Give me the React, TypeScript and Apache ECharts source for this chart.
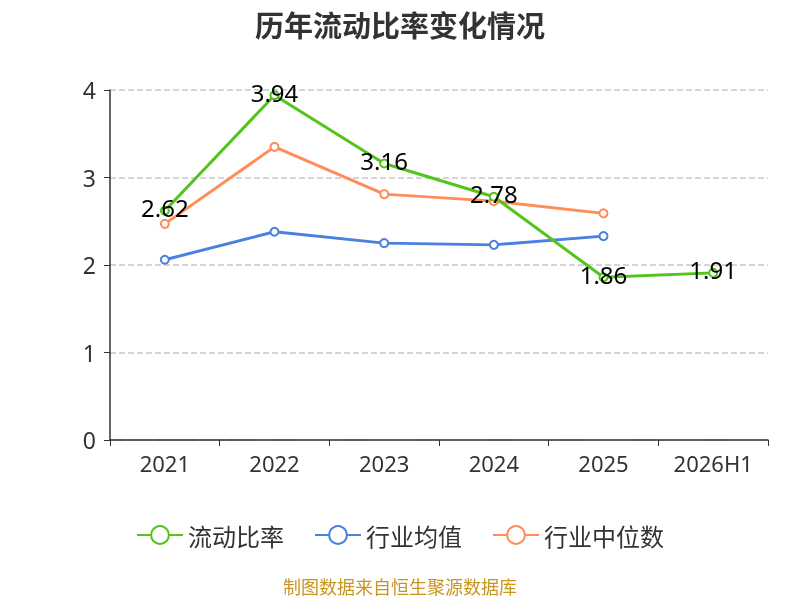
import React, { useEffect, useRef } from "react";
import * as echarts from "echarts";

const categories = ["2021", "2022", "2023", "2024", "2025", "2026H1"];
const currentRatio = [2.62, 3.94, 3.16, 2.78, 1.86, 1.91];
const industryMean = [2.06, 2.38, 2.25, 2.23, 2.33, null];
const industryMedian = [2.47, 3.35, 2.81, 2.73, 2.59, null];

export default function App() {
  const ref = useRef<HTMLDivElement>(null);
  useEffect(() => {
    const chart = echarts.init(ref.current!, null, { renderer: "svg" });
    const lineSeries = (name: string, data: any[], color: string, showLabel: boolean) => ({
      name,
      type: "line",
      data,
      symbol: "emptyCircle",
      symbolSize: 8,
      lineStyle: { width: 3, color },
      itemStyle: { color, borderWidth: 2 },
      label: showLabel
        ? { show: true, position: "inside", offset: [0, -3], color: "#000", fontSize: 24, fontFamily: "Noto Sans" }
        : { show: false },
      z: showLabel ? 3 : 2,
    });
    chart.setOption({
      animation: false,
      title: {
        text: "历年流动比率变化情况",
        left: "center",
        top: 4,
        textStyle: { fontSize: 29, fontWeight: "bold", color: "#333", fontFamily: "Noto Sans CJK SC" },
      },
      grid: { left: 110, right: 32, top: 90, bottom: 160 },
      legend: {
        top: 518,
        left: "center",
        itemWidth: 46,
        itemHeight: 22,
        itemGap: 30,
        textStyle: { fontSize: 24, color: "#333", fontFamily: "Noto Sans CJK SC" },
        data: ["流动比率", "行业均值", "行业中位数"],
      },
      graphic: [
        {
          type: "text",
          left: "center",
          top: 577,
          style: {
            text: "制图数据来自恒生聚源数据库",
            fill: "#c8961e",
            fontSize: 18,
            fontFamily: "Noto Sans CJK SC",
          },
        },
      ],
      xAxis: {
        type: "category",
        data: categories,
        boundaryGap: true,
        axisLine: { lineStyle: { color: "#333", width: 1.5 } },
        axisTick: { show: true, length: 6, lineStyle: { color: "#333" } },
        axisLabel: { fontSize: 22, color: "#333", margin: 12, fontFamily: "Noto Sans" },
      },
      yAxis: {
        type: "value",
        min: 0,
        max: 4,
        interval: 1,
        axisLine: { show: true, lineStyle: { color: "#333", width: 1.5 } },
        axisTick: { show: true, length: 6, lineStyle: { color: "#333" } },
        axisLabel: { fontSize: 23, color: "#333", margin: 14, fontFamily: "Noto Sans" },
        splitLine: { lineStyle: { type: "dashed", color: "#c8c8c8", width: 1.5 } },
      },
      series: [
        lineSeries("流动比率", currentRatio, "#52c41a", true),
        lineSeries("行业均值", industryMean, "#4a80e0", false),
        lineSeries("行业中位数", industryMedian, "#ff8c5a", false),
      ],
    });
    return () => chart.dispose();
  }, []);
  return <div ref={ref} style={{ position: "fixed", left: 0, top: 0, width: 800, height: 600 }} />;
}
